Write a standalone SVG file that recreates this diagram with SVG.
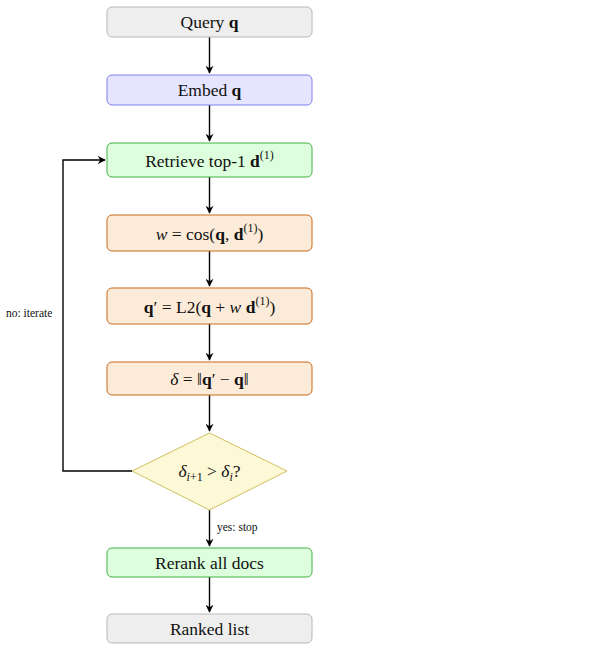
<svg xmlns="http://www.w3.org/2000/svg" width="611" height="666" viewBox="0 0 611 666">
<style>
text{font-family:"Liberation Serif","DejaVu Serif",serif;fill:#111}
.t{font-size:17.5px;text-anchor:middle}
.s{font-size:11.5px}
.gray{fill:#eeeeee;stroke:#b8b8b8;stroke-width:1}
.blue{fill:#e5e5ff;stroke:#8080ee;stroke-width:1}
.green{fill:#ddffdd;stroke:#44b044;stroke-width:1}
.orange{fill:#fdebd9;stroke:#c8681a;stroke-width:1}
.dia{fill:#fdf8d6;stroke:#cfc060;stroke-width:1}
.c{fill:none;stroke:#000;stroke-width:1.4}
</style>
<defs>
<marker id="ah" viewBox="0 0 10 10" refX="9" refY="5" markerWidth="8" markerHeight="8" orient="auto" markerUnits="userSpaceOnUse">
<path d="M0,0 L10,5 L0,10 L3,5 Z" fill="#000"/>
</marker>
</defs>
<g id="connectors">
<path class="c" d="M209.5,37 V73" marker-end="url(#ah)"/>
<path class="c" d="M209.5,105 V141" marker-end="url(#ah)"/>
<path class="c" d="M209.5,177 V213" marker-end="url(#ah)"/>
<path class="c" d="M209.5,251 V286" marker-end="url(#ah)"/>
<path class="c" d="M209.5,324 V360" marker-end="url(#ah)"/>
<path class="c" d="M209.5,395 V431" marker-end="url(#ah)"/>
<path class="c" d="M209.5,510 V546" marker-end="url(#ah)"/>
<path class="c" d="M209.5,577 V612" marker-end="url(#ah)"/>
<path class="c" d="M132,471 H63 V160 H105" marker-end="url(#ah)"/>
<text class="s" x="6" y="317">no: iterate</text>
<text class="s" x="217" y="531">yes: stop</text>
</g>
<g id="query">
<rect class="gray" x="107" y="7" width="205" height="30" rx="5"/>
<text class="t" x="209.5" y="28">Query <tspan font-weight="bold">q</tspan></text>
</g>
<g id="embed">
<rect class="blue" x="107" y="75" width="205" height="30" rx="5"/>
<text class="t" x="209.5" y="96">Embed <tspan font-weight="bold">q</tspan></text>
</g>
<g id="retrieve">
<rect class="green" x="107" y="143" width="205" height="34" rx="5"/>
<text class="t" x="209.5" y="167">Retrieve top-1 <tspan font-weight="bold">d</tspan><tspan font-size="12" dy="-8">(1)</tspan></text>
</g>
<g id="weight">
<rect class="orange" x="107" y="215" width="205" height="36" rx="5"/>
<text class="t" x="209.5" y="240"><tspan font-style="italic">w</tspan> = cos(<tspan font-weight="bold">q</tspan>, <tspan font-weight="bold">d</tspan><tspan font-size="12" dy="-8">(1)</tspan><tspan dy="8">)</tspan></text>
</g>
<g id="update">
<rect class="orange" x="107" y="288" width="205" height="36" rx="5"/>
<text class="t" x="209.5" y="313"><tspan font-weight="bold">q</tspan>′ = L2(<tspan font-weight="bold">q</tspan> + <tspan font-style="italic">w</tspan> <tspan font-weight="bold">d</tspan><tspan font-size="12" dy="-8">(1)</tspan><tspan dy="8">)</tspan></text>
</g>
<g id="delta">
<rect class="orange" x="107" y="362" width="205" height="33" rx="5"/>
<text class="t" x="209.5" y="385"><tspan font-style="italic">δ</tspan> = ‖<tspan font-weight="bold">q</tspan>′ − <tspan font-weight="bold">q</tspan>‖</text>
</g>
<g id="decision">
<polygon class="dia" points="209.5,433 287,471 209.5,510 132,471"/>
<text class="t" x="209.5" y="477"><tspan font-style="italic">δ</tspan><tspan font-size="12" font-style="italic" dy="4">i</tspan><tspan font-size="12">+1</tspan><tspan dy="-4"> &gt; </tspan><tspan font-style="italic">δ</tspan><tspan font-size="12" font-style="italic" dy="4">i</tspan><tspan dy="-4">?</tspan></text>
</g>
<g id="rerank">
<rect class="green" x="107" y="548" width="205" height="29" rx="5"/>
<text class="t" x="209.5" y="569">Rerank all docs</text>
</g>
<g id="ranked">
<rect class="gray" x="107" y="614" width="205" height="29" rx="5"/>
<text class="t" x="209.5" y="635">Ranked list</text>
</g>
</svg>
